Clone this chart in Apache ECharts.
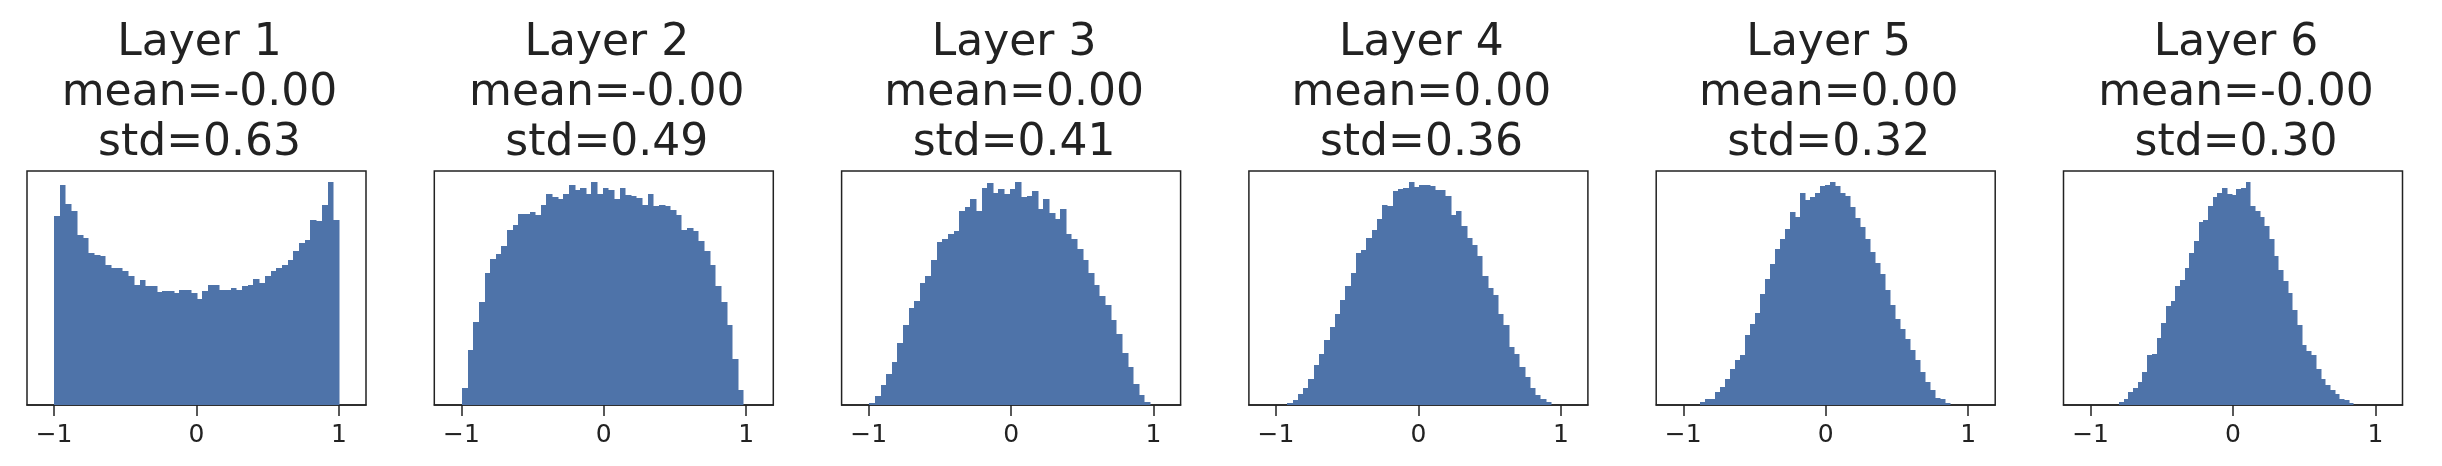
<!DOCTYPE html>
<html>
<head>
<meta charset="utf-8">
<script src="https://cdn.jsdelivr.net/npm/echarts@6/dist/echarts.min.js"></script>
<style>
html,body{margin:0;padding:0;background:#fff;}
#chart{width:2442px;height:466px;}
</style>
</head>
<body>
<div id="chart"></div>
<script>
// ---- data ----
const layerNames = ['Layer 1', 'Layer 2', 'Layer 3', 'Layer 4', 'Layer 5', 'Layer 6'];
const meanLabels = ['-0.00', '-0.00', '0.00', '0.00', '0.00', '-0.00'];
const stdLabels = ['0.63', '0.49', '0.41', '0.36', '0.32', '0.30'];
// histogram range (min, max of values) per layer, 50 equal bins each
const binRanges = [[-1, 1], [-0.995, 0.98], [-0.995, 0.975], [-0.92, 0.93], [-0.885, 0.87], [-0.80, 0.845]];
const xTickValues = [-1, 0, 1];

const counts1 = [190, 221, 202, 195, 171, 168, 153, 151, 150, 141, 138, 138, 135, 130, 121, 126, 120, 120, 114, 115,
  115, 113, 116, 116, 113, 107, 115, 121, 121, 116, 116, 118, 116, 120, 121, 127, 123, 130, 135, 138,
  141, 146, 155, 163, 166, 186, 185, 201, 224, 186];
const counts2 = [17, 55, 83, 104, 133, 147, 152, 160, 176, 181, 192, 192, 194, 191, 201, 212, 209, 207, 212, 221,
  216, 218, 212, 224, 212, 218, 216, 207, 218, 211, 210, 208, 201, 212, 200, 201, 200, 196, 191, 176,
  178, 175, 165, 155, 141, 120, 104, 80, 46, 15];
const counts3 = [2, 9, 20, 31, 43, 63, 81, 98, 105, 123, 130, 146, 165, 168, 173, 176, 196, 200, 208, 196,
  219, 224, 214, 218, 213, 218, 225, 210, 211, 216, 198, 208, 194, 188, 198, 173, 168, 158, 146, 133,
  121, 110, 101, 86, 72, 52, 38, 21, 10, 3];
const counts4 = [2, 5, 11, 17, 26, 40, 51, 65, 78, 91, 106, 120, 133, 153, 156, 168, 176, 187, 201, 200,
  215, 217, 218, 224, 219, 221, 221, 220, 216, 216, 210, 191, 195, 180, 168, 161, 150, 130, 118, 111,
  91, 80, 58, 51, 38, 28, 17, 10, 6, 3];
const counts5 = [3, 6, 6, 13, 18, 26, 36, 45, 50, 70, 81, 92, 111, 126, 141, 156, 166, 176, 193, 188,
  212, 205, 208, 212, 219, 220, 223, 219, 212, 209, 198, 187, 178, 166, 153, 142, 131, 115, 100, 86,
  76, 66, 55, 45, 33, 23, 15, 7, 6, 2];
const counts6 = [3, 6, 13, 17, 23, 33, 50, 51, 68, 83, 100, 105, 120, 126, 138, 153, 166, 185, 187, 201,
  210, 214, 219, 213, 212, 218, 219, 225, 201, 196, 190, 181, 168, 150, 136, 125, 113, 96, 81, 61,
  55, 50, 36, 26, 20, 15, 11, 6, 5, 2];
const allCounts = [counts1, counts2, counts3, counts4, counts5, counts6];

// ---- layout / style ----
const barColor = '#4e73a9';
const inkColor = '#222222';
const fontFamily = 'DejaVu Sans';
const panelLeft0 = 27, panelStep = 407.3, panelWidth = 339, panelTop = 171, panelHeight = 234;

const chart = echarts.init(document.getElementById('chart'), null, {renderer: 'canvas'});

const grids = [], xAxes = [], yAxes = [], series = [], titles = [];
allCounts.forEach(function (counts, i) {
  const left = panelLeft0 + panelStep * i;
  grids.push({
    left: left, top: panelTop, width: panelWidth, height: panelHeight,
    show: true, borderColor: inkColor, borderWidth: 1.5, backgroundColor: '#fff', containLabel: false
  });
  xAxes.push({
    type: 'value', gridIndex: i, min: -1.19, max: 1.19,
    axisLine: {show: true, onZero: false, lineStyle: {color: inkColor, width: 1.5}},
    axisTick: {show: true, customValues: xTickValues, length: 11, inside: false, lineStyle: {color: inkColor, width: 1.5}},
    axisLabel: {
      show: true, customValues: xTickValues, margin: 18, color: inkColor, fontSize: 25, fontFamily: fontFamily,
      formatter: function (v) { return v < 0 ? '\u2212' + Math.abs(v) : String(v); }
    },
    splitLine: {show: false}
  });
  const maxCount = Math.max.apply(null, counts);
  yAxes.push({
    type: 'value', gridIndex: i, min: 0, max: maxCount * 1.05,
    axisLine: {show: false}, axisTick: {show: false}, axisLabel: {show: false}, splitLine: {show: false}
  });
  const lo = binRanges[i][0], hi = binRanges[i][1], n = counts.length, w = (hi - lo) / n;
  const data = counts.map(function (c, k) { return [lo + k * w, lo + (k + 1) * w, c]; });
  series.push({
    type: 'custom', xAxisIndex: i, yAxisIndex: i, data: data,
    encode: {x: [0, 1], y: 2},
    clip: true,
    renderItem: function (params, api) {
      const pTop = api.coord([api.value(0), api.value(2)]);
      const pBot = api.coord([api.value(1), 0]);
      const x0 = Math.round(pTop[0]), x1 = Math.round(pBot[0]);
      const y0 = Math.round(pTop[1]), y1 = pBot[1];
      return {
        type: 'rect',
        shape: {x: x0, y: y0, width: x1 - x0 + 0.5, height: y1 - y0},
        style: {fill: barColor}
      };
    }
  });
  titles.push({
    text: layerNames[i] + '\nmean=' + meanLabels[i] + '\nstd=' + stdLabels[i],
    left: left + panelWidth / 2 - 2, top: 14, textAlign: 'center',
    textStyle: {fontFamily: fontFamily, fontSize: 44, fontWeight: 'normal', color: inkColor, lineHeight: 50}
  });
});

chart.setOption({
  backgroundColor: '#ffffff',
  animation: false,
  title: titles,
  grid: grids,
  xAxis: xAxes,
  yAxis: yAxes,
  series: series
});
</script>
</body>
</html>
